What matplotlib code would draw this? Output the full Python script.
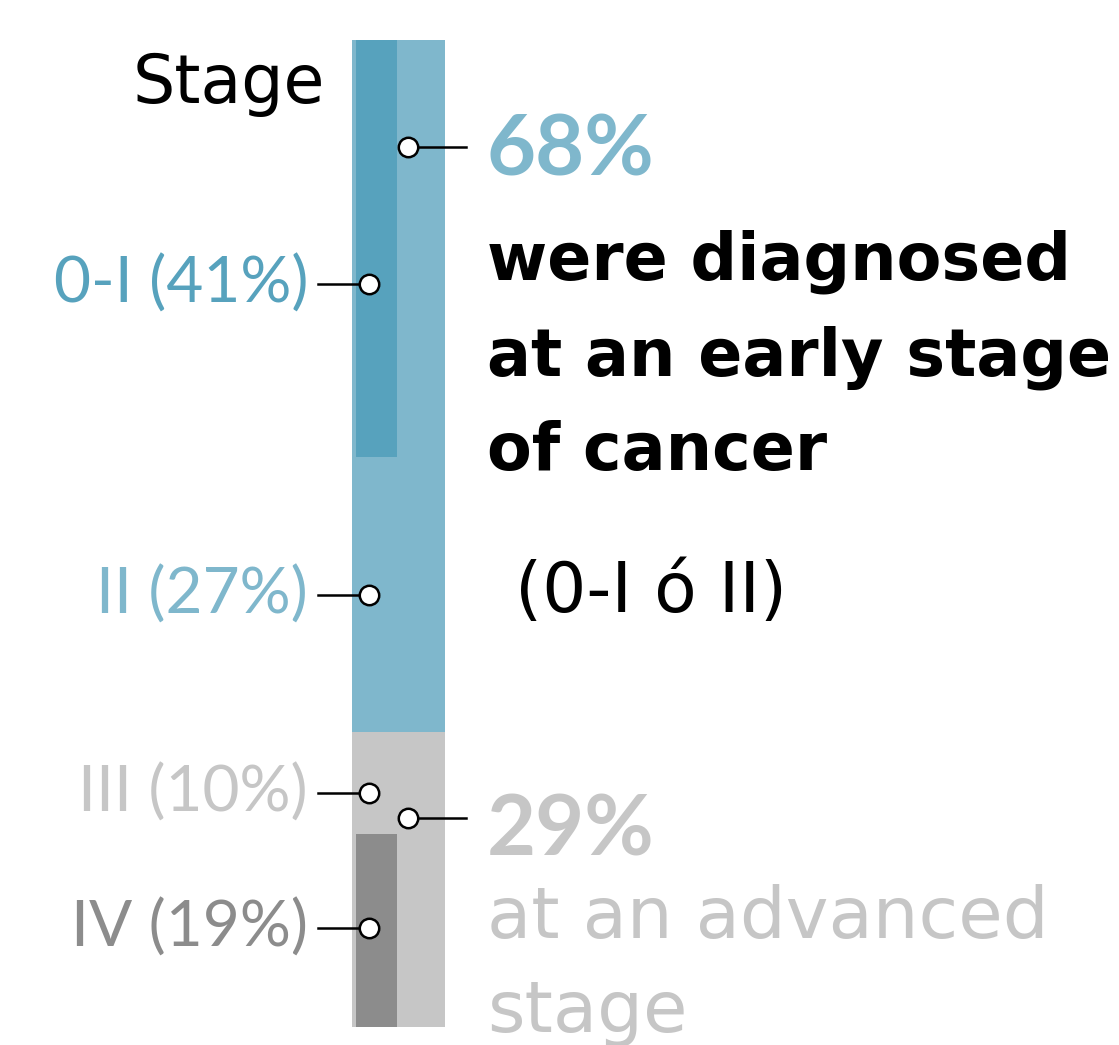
import matplotlib as mpl
mpl.use('Agg')
import matplotlib.pyplot as plt

# stages, share of patients (%)
stages = ['0-I', 'II', 'III', 'IV']
shares = [41, 27, 10, 19]
stage_colors = ['#57a2bd', '#7fb7cc', '#c6c6c6', '#8c8c8c']
label_pos = [24, 54.5, 74, 87.3]   # where the callout dots sit

groups = ['early', 'advanced']
group_shares = [68, 29]
group_colors = ['#7fb7cc', '#c6c6c6']
group_label_pos = [10.5, 76.5]

early_text = ['were diagnosed', 'at an early stage', 'of cancer']
advanced_text = ['at an advanced', 'stage']

plt.rcParams['font.family'] = ['DejaVu Sans']

W, H = 1119, 1045
fig = plt.figure(figsize=(W / 100, H / 100), dpi=100)
top_px, bot_px = 40, 1027
total = sum(shares)
ax = fig.add_axes([0, (H - bot_px) / H, 1, (bot_px - top_px) / H])
ax.set_xlim(0, W)
ax.set_ylim(total, 0)
ax.axis('off')


def ty(py):
    # pixel row -> data y, for placing text
    return (py - top_px) / (bot_px - top_px) * total


# outer bar: early / advanced
b = 0
for v, c in zip(group_shares, group_colors):
    ax.bar(398.5, v, bottom=b, width=93, color=c, linewidth=0)
    b += v

# inner bar: stages
b = 0
for v, c in zip(shares, stage_colors):
    ax.bar(376.5, v, bottom=b, width=41, color=c, linewidth=0)
    b += v

# stage labels on the left
for s, v, y, c in zip(stages, shares, label_pos, stage_colors):
    ax.plot([318, 369], [y, y], color='black', lw=1.8, zorder=3)
    ax.plot(369, y, 'o', ms=14, mfc='white', mec='black', mew=1.8, zorder=4)
    ax.text(308, y, f'{s} ({v}%)', color=c, fontsize=46, family='Lato',
            ha='right', va='center')

# group callouts on the right
pct_base = [175, 855]
for g, v, y, c, pb in zip(groups, group_shares, group_label_pos, group_colors, pct_base):
    ax.plot([408, 466], [y, y], color='black', lw=1.8, zorder=3)
    ax.plot(408, y, 'o', ms=14, mfc='white', mec='black', mew=1.8, zorder=4)
    ax.text(487, ty(pb), f'{v}%', color=c, fontsize=61, fontweight='bold',
            family='Lato', ha='left', va='baseline')

ax.text(325, ty(103), 'Stage', color='black', fontsize=48, ha='right', va='baseline')

for i, line in enumerate(early_text):
    ax.text(487, ty(280 + 95 * i), line, color='black', fontsize=47,
            fontweight='bold', ha='left', va='baseline')
ax.text(515, ty(612), '(0-I ó II)', color='black', fontsize=50,
        ha='left', va='baseline')

for i, line in enumerate(advanced_text):
    ax.text(487, ty(938 + 94 * i), line, color='#c6c6c6', fontsize=52,
            ha='left', va='baseline', clip_on=False)

fig.savefig('out.png', dpi=100)
